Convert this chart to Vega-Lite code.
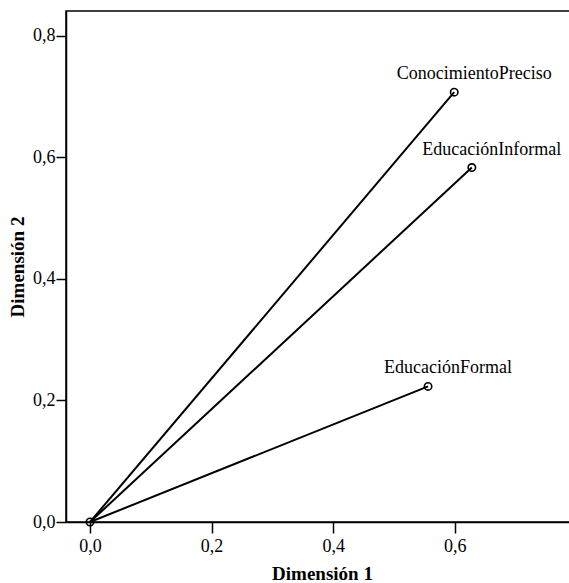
{
  "$schema": "https://vega.github.io/schema/vega-lite/v6.json",
  "autosize": "none",
  "padding": {"left": 66, "top": 11, "right": 0, "bottom": 61},
  "width": 512,
  "height": 511,
  "background": "white",
  "config": {
    "font": "Liberation Serif",
    "view": {"stroke": "black", "strokeWidth": 1.5},
    "axis": {
      "grid": false,
      "domainColor": "black",
      "domainWidth": 1.5,
      "tickColor": "black",
      "tickWidth": 1.5,
      "labelFont": "Liberation Serif",
      "labelFontSize": 18,
      "labelColor": "black",
      "titleFont": "Liberation Serif",
      "titleFontSize": 19,
      "titleFontWeight": "bold",
      "titleColor": "black",
      "labelExpr": "replace(format(datum.value, '.1f'), '.', ',')"
    }
  },
  "data": {
    "values": [
      {"variable": "ConocimientoPreciso", "d1": 0.599, "d2": 0.707},
      {"variable": "EducaciónInformal", "d1": 0.628, "d2": 0.583},
      {"variable": "EducaciónFormal", "d1": 0.556, "d2": 0.223}
    ]
  },
  "encoding": {
    "x": {
      "field": "d1",
      "type": "quantitative",
      "title": "Dimensión 1",
      "scale": {"domain": [-0.0395, 0.8026], "nice": false, "zero": false},
      "axis": {"values": [0, 0.2, 0.4, 0.6], "tickSize": 11, "labelPadding": 4, "titlePadding": 9}
    },
    "y": {
      "field": "d2",
      "type": "quantitative",
      "title": "Dimensión 2",
      "scale": {"domain": [0, 0.8405], "nice": false},
      "axis": {"values": [0, 0.2, 0.4, 0.6, 0.8], "tickSize": 10, "labelPadding": 1, "titlePadding": 5}
    }
  },
  "layer": [
    {
      "mark": {"type": "rule", "color": "black", "strokeWidth": 2},
      "encoding": {
        "x": {"datum": 0, "type": "quantitative"},
        "y": {"datum": 0, "type": "quantitative"},
        "x2": {"field": "d1"},
        "y2": {"field": "d2"}
      }
    },
    {
      "mark": {"type": "point", "shape": "circle", "filled": false, "color": "black", "strokeWidth": 1.6, "size": 55, "opacity": 1}
    },
    {
      "data": {"values": [{"d1": 0, "d2": 0}]},
      "mark": {"type": "point", "shape": "circle", "filled": false, "color": "black", "strokeWidth": 1.6, "size": 55, "opacity": 1}
    },
    {
      "mark": {"type": "text", "font": "Liberation Serif", "fontSize": 18, "color": "black", "align": "center", "baseline": "alphabetic", "dx": 20, "dy": -13},
      "encoding": {"text": {"field": "variable"}}
    }
  ]
}
